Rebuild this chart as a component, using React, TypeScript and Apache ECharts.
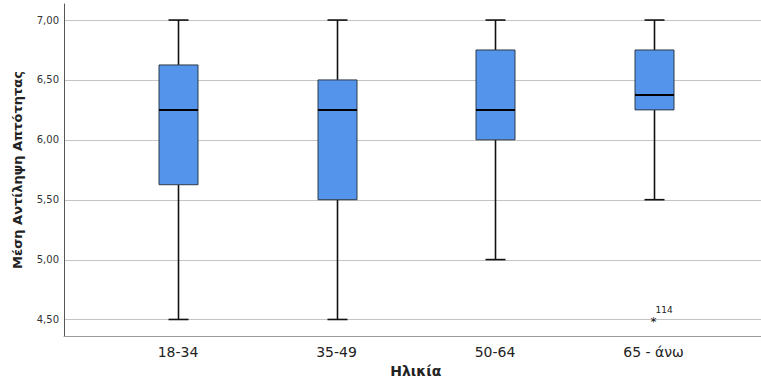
import React, { useEffect, useRef } from "react";
import * as echarts from "echarts";

const categories = ["18-34", "35-49", "50-64", "65 - άνω"];
// [min, Q1, median, Q3, max]
const mins = [4.5, 4.5, 5.0, 5.5];
const q1s = [5.625, 5.5, 6.0, 6.25];
const medians = [6.25, 6.25, 6.25, 6.375];
const q3s = [6.625, 6.5, 6.75, 6.75];
const maxs = [7.0, 7.0, 7.0, 7.0];
const outlierCats = [3];
const outlierValues = [4.5];
const outlierIds = ["114"];
const yTickValues = [4.5, 5.0, 5.5, 6.0, 6.5, 7.0];

const Y_MIN = 4.362;
const Y_MAX = 7.134;

export default function App() {
  const ref = useRef<HTMLDivElement>(null);
  useEffect(() => {
    if (!ref.current) return;
    const chart = echarts.init(ref.current, null, { renderer: "svg" });
    const boxData = categories.map((_, i) => [i, mins[i], q1s[i], medians[i], q3s[i], maxs[i]]);
    const outData = outlierCats.map((c, i) => [c, outlierValues[i], outlierIds[i]]);
    const fontFamily = "'DejaVu Sans', 'Noto Sans', sans-serif";
    chart.setOption({
      animation: false,
      backgroundColor: "#ffffff",
      grid: [
        { left: 64, right: 0, top: 4, bottom: 46, outerBoundsMode: "none", containLabel: false },
        { left: 98.75, right: 28.25, top: 4, bottom: 46, outerBoundsMode: "none", containLabel: false },
      ],
      xAxis: [
        {
          gridIndex: 0,
          type: "value",
          min: 0,
          max: 1,
          axisLine: { show: true, lineStyle: { color: "#9a9a9a", width: 1 } },
          axisTick: { show: false },
          axisLabel: { show: false },
          splitLine: { show: false },
        },
        {
          gridIndex: 1,
          type: "category",
          data: categories,
          axisLine: { show: false },
          axisTick: { show: false },
          splitLine: { show: false },
          axisLabel: { color: "#222", fontSize: 14, margin: 9, fontFamily },
          name: "Ηλικία",
          nameLocation: "middle",
          nameGap: 28,
          nameTextStyle: { fontSize: 14, fontWeight: "bold", color: "#222", fontFamily },
        },
      ],
      yAxis: [
        {
          gridIndex: 0,
          type: "value",
          min: Y_MIN,
          max: Y_MAX,
          axisLine: { show: true, lineStyle: { color: "#555", width: 1 } },
          axisTick: { show: false, customValues: yTickValues },
          axisLabel: {
            customValues: yTickValues,
            color: "#333",
            fontSize: 10,
            margin: 5,
            fontFamily,
            formatter: (v: number) => v.toFixed(2).replace(".", ","),
          },
          splitLine: { show: false },
          name: "Μέση Αντίληψη Απτότητας",
          nameLocation: "middle",
          nameGap: 40,
          nameTextStyle: { fontSize: 13, fontWeight: "bold", color: "#222", fontFamily },
        },
        {
          gridIndex: 1,
          type: "value",
          min: Y_MIN,
          max: Y_MAX,
          show: false,
          splitLine: { show: false },
        },
      ],
      series: [
        {
          type: "custom",
          xAxisIndex: 0,
          yAxisIndex: 0,
          data: yTickValues.map((v) => [0, v]),
          silent: true,
          z: 1,
          renderItem: (params: any, api: any) => {
            const p0 = api.coord([0, api.value(1)]);
            const p1 = api.coord([1, api.value(1)]);
            const y = Math.round(p0[1]) + 0.5;
            return {
              type: "line",
              shape: { x1: p0[0] + 1, y1: y, x2: p1[0], y2: y },
              style: { stroke: "#c4c4c4", lineWidth: 1 },
            };
          },
        },
        {
          type: "custom",
          xAxisIndex: 1,
          yAxisIndex: 1,
          data: boxData,
          z: 3,
          encode: { x: 0, y: [1, 2, 3, 4, 5] },
          renderItem: (params: any, api: any) => {
            const i = api.value(0);
            const pMin = api.coord([i, api.value(1)]);
            const pQ1 = api.coord([i, api.value(2)]);
            const pMed = api.coord([i, api.value(3)]);
            const pQ3 = api.coord([i, api.value(4)]);
            const pMax = api.coord([i, api.value(5)]);
            const x = Math.round(pMed[0]) + 0.5;
            const hw = 19.5;
            const cap = 10;
            const wStyle = { stroke: "#111", lineWidth: 1.6 };
            return {
              type: "group",
              children: [
                { type: "line", shape: { x1: x, y1: pQ3[1], x2: x, y2: pMax[1] }, style: wStyle },
                { type: "line", shape: { x1: x, y1: pQ1[1], x2: x, y2: pMin[1] }, style: wStyle },
                { type: "line", shape: { x1: x - cap, y1: pMax[1], x2: x + cap, y2: pMax[1] }, style: wStyle },
                { type: "line", shape: { x1: x - cap, y1: pMin[1], x2: x + cap, y2: pMin[1] }, style: wStyle },
                {
                  type: "rect",
                  shape: { x: x - hw, y: pQ3[1], width: hw * 2, height: pQ1[1] - pQ3[1] },
                  style: { fill: "#5494EA", stroke: "#2f3a48", lineWidth: 1 },
                },
                {
                  type: "line",
                  shape: { x1: x - hw, y1: pMed[1], x2: x + hw, y2: pMed[1] },
                  style: { stroke: "#000", lineWidth: 2 },
                },
              ],
            };
          },
        },
        {
          type: "custom",
          xAxisIndex: 1,
          yAxisIndex: 1,
          data: outData,
          z: 4,
          encode: { x: 0, y: 1 },
          renderItem: (params: any, api: any) => {
            const p = api.coord([api.value(0), api.value(1)]);
            return {
              type: "group",
              children: [
                {
                  type: "text",
                  x: p[0],
                  y: p[1] + 3,
                  style: {
                    text: "*",
                    fontSize: 12,
                    fill: "#111",
                    align: "center",
                    verticalAlign: "middle",
                    fontFamily,
                  },
                },
                {
                  type: "text",
                  x: p[0] + 2,
                  y: p[1] - 9,
                  style: {
                    text: String(outData[params.dataIndex][2]),
                    fontSize: 9,
                    fill: "#222",
                    align: "left",
                    verticalAlign: "middle",
                    fontFamily,
                  },
                },
              ],
            };
          },
        },
      ],
    });
    return () => chart.dispose();
  }, []);
  return <div ref={ref} style={{ width: 761, height: 382, position: "absolute", left: 0, top: 0 }} />;
}
